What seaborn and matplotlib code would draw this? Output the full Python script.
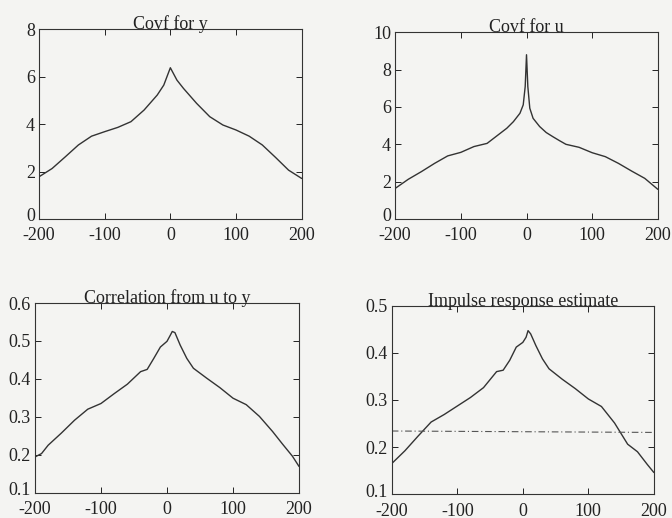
import numpy as np
import pandas as pd
import matplotlib
matplotlib.use("Agg")
import matplotlib.pyplot as plt
import matplotlib.transforms as mtransforms
import seaborn as sns

# ---- data ----
lags_y = [-200, -180, -160, -140, -120, -100, -80, -60, -40, -20, -10, 0,
          10, 20, 40, 60, 80, 100, 120, 140, 160, 180, 200]
covf_y = [1.78, 2.13, 2.62, 3.12, 3.49, 3.68, 3.86, 4.10, 4.59, 5.22, 5.64, 6.37,
          5.85, 5.50, 4.87, 4.31, 3.96, 3.75, 3.49, 3.12, 2.60, 2.06, 1.71]

lags_u = [-200, -180, -160, -140, -120, -100, -80, -60, -50, -40, -30, -20, -10, -5, -2, 0,
          2, 5, 10, 20, 30, 40, 50, 60, 80, 100, 120, 140, 160, 180, 200]
covf_u = [1.64, 2.13, 2.54, 2.98, 3.38, 3.57, 3.88, 4.05, 4.32, 4.59, 4.86, 5.21, 5.66, 6.11, 7.09, 8.79,
          7.09, 5.93, 5.39, 4.95, 4.63, 4.41, 4.20, 4.00, 3.84, 3.55, 3.34, 2.98, 2.57, 2.18, 1.59]

lags_c = [-200, -190, -180, -160, -140, -120, -100, -80, -60, -40, -30, -20, -10, 0,
          5, 8, 12, 20, 30, 40, 60, 80, 100, 120, 140, 160, 175, 190, 200]
corr_uy = [0.194, 0.203, 0.225, 0.257, 0.291, 0.320, 0.335, 0.361, 0.386, 0.419, 0.425, 0.454, 0.484, 0.499,
           0.515, 0.525, 0.522, 0.489, 0.454, 0.428, 0.402, 0.377, 0.349, 0.332, 0.301, 0.261, 0.228, 0.196, 0.169]

lags_i = [-200, -180, -160, -140, -120, -100, -80, -60, -40, -30, -20, -10, 0,
          5, 8, 12, 20, 30, 40, 60, 80, 100, 120, 140, 160, 175, 190, 200]
impulse = [0.165, 0.192, 0.223, 0.253, 0.269, 0.287, 0.305, 0.326, 0.360, 0.363, 0.384, 0.412, 0.422,
           0.433, 0.447, 0.440, 0.415, 0.387, 0.366, 0.344, 0.324, 0.302, 0.286, 0.251, 0.206, 0.190, 0.163, 0.146]

conf_lags = [-200, 200]
conf_vals = [0.234, 0.231]

titles = ["Covf for y", "Covf for u", "Correlation from u to y", "Impulse response estimate"]
x_ticks = [-200, -100, 0, 100, 200]
y_ticks = [[0, 2, 4, 6, 8], [0, 2, 4, 6, 8, 10],
           [0.1, 0.2, 0.3, 0.4, 0.5, 0.6], [0.1, 0.2, 0.3, 0.4, 0.5]]

# ---- styling ----
sns.set_theme(style="ticks")
plt.rcParams['font.family'] = ['Liberation Serif', 'DejaVu Serif']
bg = '#f4f4f2'
line_col = '#333333'

fig = plt.figure(figsize=(6.72, 5.18), dpi=100, facecolor=bg)
# axes rectangles [left, bottom, width, height] in figure fractions
rects = [
    [0.058, 0.577, 0.391, 0.367],
    [0.588, 0.577, 0.391, 0.361],
    [0.052, 0.049, 0.393, 0.366],
    [0.583, 0.046, 0.390, 0.364],
]
series = [(lags_y, covf_y), (lags_u, covf_u), (lags_c, corr_uy), (lags_i, impulse)]
raise_bottom = mtransforms.ScaledTranslation(0, 3 / 72, fig.dpi_scale_trans)

for i, (rect, (lx, vy)) in enumerate(zip(rects, series)):
    ax = fig.add_axes(rect)
    ax.set_facecolor(bg)
    df = pd.DataFrame({"lag": lx, "val": vy})
    sns.lineplot(data=df, x="lag", y="val", ax=ax, color=line_col, linewidth=1.0)
    if i == 3:
        dfc = pd.DataFrame({"lag": conf_lags, "val": conf_vals})
        sns.lineplot(data=dfc, x="lag", y="val", ax=ax, color='#555555',
                     linewidth=0.8, linestyle=(0, (6, 2.5, 1, 2.5)))
    ax.set_xlim(-200, 200)
    yt = y_ticks[i]
    ax.set_ylim(yt[0], yt[-1])
    ax.set_xticks(x_ticks)
    ax.set_xticklabels([str(t) for t in x_ticks])
    ax.set_yticks(yt)
    ax.set_yticklabels([f"{t:g}" for t in yt])
    ax.set_xlabel("")
    ax.set_ylabel("")
    ax.tick_params(direction='in', top=True, right=True, length=4, width=0.7,
                   labelsize=13, colors='#222222')
    ax.tick_params(axis='x', pad=6)
    ax.tick_params(axis='y', pad=3)
    for s in ax.spines.values():
        s.set_linewidth(0.8)
        s.set_color('#333333')
    ax.set_title(titles[i], fontsize=13, pad=0, color='#222222')
    lab0 = ax.get_yticklabels()[0]
    lab0.set_transform(lab0.get_transform() + raise_bottom)

fig.savefig("out.png", dpi=100, facecolor=bg)
